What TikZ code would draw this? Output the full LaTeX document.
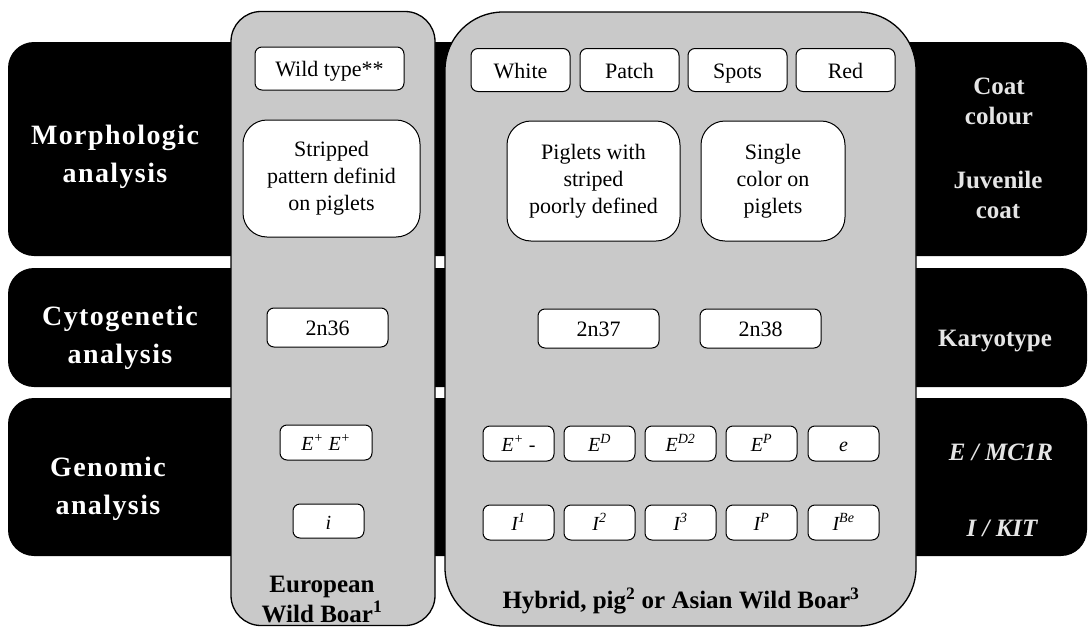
\documentclass[tikz,border=0pt]{standalone}
\usepackage{fontspec}
\setmainfont{Liberation Serif}
\usepackage{tikz}
\usetikzlibrary{positioning}
\tikzstyle{band}=[fill=black,rounded corners=26pt]
\tikzstyle{column}=[rectangle,draw=black,line width=1.3pt,fill=black!21]
\tikzstyle{roundbox}=[rectangle,draw=black,fill=white,line width=1pt,rounded corners=7pt,inner sep=0pt,minimum width=99pt,minimum height=43pt,font=\fontsize{22}{26}\selectfont]
\tikzstyle{trait}=[roundbox,text height=17pt,text depth=1pt]
\tikzstyle{juvenile}=[roundbox,rounded corners=24pt,minimum height=120pt,align=center,font=\fontsize{22}{27}\selectfont]
\tikzstyle{karyo}=[trait,minimum width=121pt,minimum height=39pt]
\tikzstyle{allele}=[trait,minimum width=71pt,minimum height=35pt,font=\fontsize{20}{24}\selectfont\itshape]
\tikzstyle{rowlabel}=[text=white,align=center,font=\fontsize{28}{38}\selectfont\bfseries\addfontfeatures{LetterSpace=5}]
\tikzstyle{sidelabel}=[text=black!10,align=center,font=\fontsize{25}{30}\selectfont\bfseries]
\tikzstyle{groupname}=[align=center,font=\fontsize{25}{30}\selectfont\bfseries]

\begin{document}
\begin{tikzpicture}[x=1pt,y=-1pt]

  \useasboundingbox (0,0) rectangle (1088,627);

%bands
  \foreach \top/\bottom in {42/256, 268/387, 398/556}
          \path[band] (8,\top) rectangle (1087,\bottom);

  \foreach \x/\y/\name/\label in {115/157/morph/{Morphologic\\analysis}, 120/338/cyto/{Cytogenetic\\analysis}, 108/489/genom/{Genomic\\analysis}}
          \node[rowlabel] (\name) at (\x,\y) {\label};

  \foreach \x/\y/\name/\label in {999/101/coat/{Coat\\colour}, 998/195/juv/{Juvenile\\coat}, 995/341/kary/Karyotype, 1001/452/mcir/{\itshape E / MC1R}, 1002/528/kit/{\itshape I / KIT}}
          \node[sidelabel] (\name) at (\x,\y) {\label};

%columns
  \node[column,rounded corners=30pt,minimum width=204pt,minimum height=614pt] (european) at (333,318.5) {};
  \node[column,rounded corners=58pt,minimum width=471pt,minimum height=614pt] (hybrid) at (680.5,319) {};

%european wild boar
  \node[trait,minimum width=149pt] (wild) at (329.5,68.5) {Wild type**};
  \node[juvenile,minimum width=177pt,minimum height=117pt] (stripped) at (331.5,178.5) {Stripped\\pattern definid\\on piglets};
  \node[karyo] (k36) at (327.5,327.5) {2n36};
  \node[allele,minimum width=92pt] (eplus) at (326,442.5) {E\textsuperscript{+}\ E\textsuperscript{+}};
  \node[allele,minimum height=34pt] (iwild) at (328.5,521) {i};
  \node[groupname] (eunm) at (322,599) {European\\Wild Boar\textsuperscript{1}};

%hybrid, pig or asian wild boar
  \foreach \x/\name/\label in {520.5/white/White, 629.5/patch/Patch, 737.5/spots/Spots, 845.5/red/Red}
          \node[trait] (\name) at (\x,70) {\label};

  \node[juvenile,minimum width=173pt] (poorly) at (593.5,181) {Piglets with\\striped\\poorly defined};
  \node[juvenile,minimum width=144pt] (single) at (773,181) {Single\\color on\\piglets};

  \foreach \x/\name/\label in {598.5/k37/2n37, 760.5/k38/2n38}
          \node[karyo] (\name) at (\x,328.5) {\label};

  \foreach \x/\name/\label in {518.5/eone/{E\textsuperscript{+}\ -}, 599.5/ed/{E\textsuperscript{D}}, 680.5/edtwo/{E\textsuperscript{D2}}, 761.5/epig/{E\textsuperscript{P}}, 843.5/erec/e}
          \node[allele] (\name) at (\x,443.5) {\label};

  \foreach \x/\name/\label in {518.5/ione/{I\textsuperscript{1}}, 599.5/itwo/{I\textsuperscript{2}}, 680.5/ithree/{I\textsuperscript{3}}, 761.5/ipig/{I\textsuperscript{P}}, 843.5/ibe/{I\textsuperscript{Be}}}
          \node[allele] (\name) at (\x,522.5) {\label};

  \node[groupname] (hynm) at (681,601) {Hybrid, pig\textsuperscript{2} or Asian Wild Boar\textsuperscript{3}};

\end{tikzpicture}
\end{document}
